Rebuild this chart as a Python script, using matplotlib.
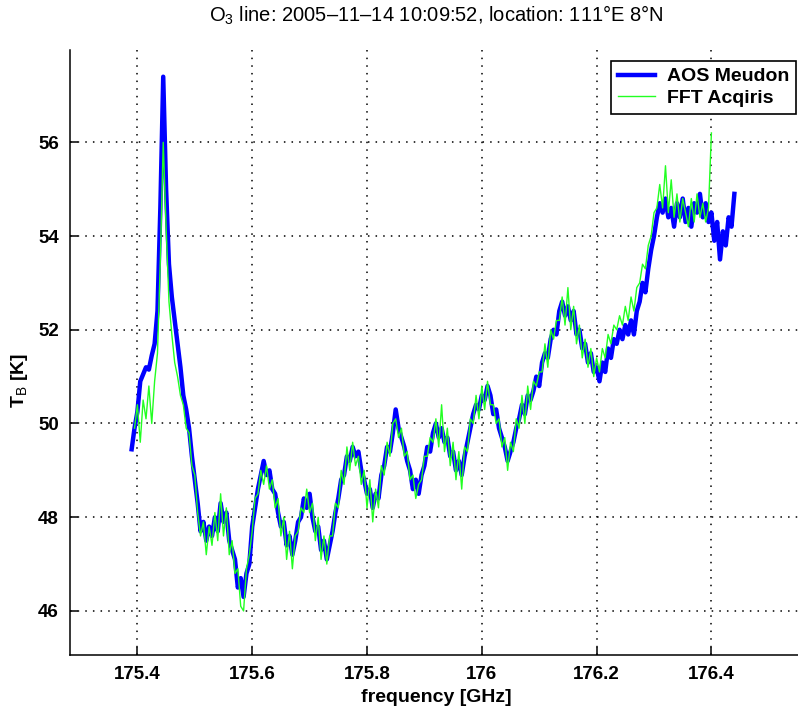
import numpy as np
import matplotlib
matplotlib.use('Agg')
import matplotlib.pyplot as plt
from matplotlib import font_manager

# channel grid of both spectrometers (GHz)
f_step = 0.005
aos_f0 = 175.39
fft_f0 = 175.395

# brightness temperature, AOS Meudon [K]
aos_tb = [
    49.45, 49.9, 50.25, 50.9, 51.05, 51.2, 51.15, 51.45, 51.7, 52.4,
    54.6, 57.4, 55.0, 53.4, 52.7, 52.2, 51.7, 51.2, 50.6, 50.3,
    49.9, 49.3, 48.8, 48.3, 47.7, 47.9, 47.5, 47.8, 47.6, 48.0,
    47.7, 48.3, 47.9, 48.1, 47.5, 47.3, 47.1, 46.5, 46.7, 46.3,
    46.8, 47.0, 47.8, 48.2, 48.6, 48.9, 49.2, 48.9, 49.0, 48.6,
    48.5, 48.1, 47.8, 47.9, 47.4, 47.6, 47.2, 47.5, 47.9, 48.0,
    48.4, 48.2, 48.5, 48.0, 47.7, 47.8, 47.3, 47.5, 47.1, 47.4,
    47.7, 48.1, 48.4, 48.8, 48.9, 49.3, 49.2, 49.5, 49.3, 49.4,
    49.0, 48.8, 48.5, 48.6, 48.2, 48.5, 48.4, 48.9, 49.1, 49.5,
    49.4, 49.8, 50.3, 49.9, 49.7, 49.5, 49.2, 49.0, 48.6, 48.8,
    48.5, 48.9, 49.1, 49.5, 49.4, 49.8, 50.0, 49.7, 49.9, 49.6,
    49.7, 49.3, 49.4, 49.0, 49.2, 48.9, 49.3, 49.6, 49.9, 50.2,
    50.4, 50.3, 50.6, 50.5, 50.8, 50.6, 50.2, 50.3, 49.9, 49.7,
    49.5, 49.2, 49.4, 49.6, 49.9, 50.1, 50.4, 50.2, 50.6, 50.5,
    50.7, 51.0, 50.8, 51.3, 51.5, 51.4, 51.8, 52.0, 51.9, 52.4,
    52.6, 52.3, 52.5, 52.2, 52.4, 51.9, 52.0, 51.6, 51.7, 51.3,
    51.5, 51.1, 51.2, 50.9, 51.3, 51.1, 51.6, 51.4, 51.8, 51.7,
    52.0, 51.8, 52.1, 51.9, 52.2, 51.9, 52.4, 52.6, 53.0, 52.8,
    53.3, 53.7, 54.0, 54.4, 54.7, 54.5, 54.8, 54.4, 54.6, 54.2,
    54.7, 54.4, 54.8, 54.3, 54.6, 54.2, 54.7, 54.5, 54.9, 54.4,
    54.7, 54.3, 54.5, 53.9, 54.3, 53.5, 54.1, 53.8, 54.4, 54.2,
    54.9,
]

# brightness temperature, FFT Acqiris [K]
fft_tb = [
    49.9, 50.4, 49.6, 50.5, 50.1, 50.8, 50.0, 50.9, 51.5, 53.5,
    56.0, 54.2, 52.6, 51.9, 51.3, 51.0, 50.6, 50.4, 49.9, 49.8,
    49.1, 48.9, 48.1, 47.6, 47.9, 47.2, 47.8, 47.4, 48.1, 47.5,
    48.5, 47.6, 48.2, 47.2, 47.5, 46.8, 46.9, 46.1, 46.0, 46.9,
    47.2, 47.7, 48.4, 48.5, 49.0, 48.7, 49.1, 48.6, 48.8, 48.2,
    48.4, 47.6, 48.0, 47.1, 47.7, 46.9, 47.6, 47.7, 48.2, 48.1,
    48.6, 48.1, 48.3, 47.5, 48.0, 47.1, 47.6, 47.0, 47.6, 47.6,
    48.3, 48.2, 49.0, 48.7, 49.5, 49.0, 49.6, 49.1, 49.3, 48.7,
    49.0, 48.2, 48.8, 47.9, 48.6, 48.2, 49.1, 48.9, 49.6, 49.3,
    50.0, 50.1, 49.7, 49.9, 49.3, 49.4, 48.8, 48.9, 48.4, 48.7,
    48.8, 49.3, 49.3, 49.7, 49.6, 50.1, 49.5, 50.4, 49.4, 49.9,
    49.1, 49.6, 48.8, 49.4, 48.6, 49.5, 49.4, 50.1, 50.0, 50.6,
    50.1, 50.8, 50.3, 50.9, 50.4, 50.4, 50.0, 50.1, 49.5, 49.7,
    49.0, 49.6, 49.4, 50.1, 49.9, 50.6, 50.0, 50.8, 50.3, 50.9,
    50.8, 51.1, 51.1, 51.7, 51.2, 52.0, 51.8, 52.2, 52.2, 52.7,
    52.1, 52.9, 52.0, 52.5, 51.7, 52.1, 51.4, 51.8, 51.2, 51.6,
    51.0, 51.4, 51.1, 51.6, 51.4, 51.9, 51.7, 52.1, 52.0, 52.3,
    52.1, 52.5, 52.2, 52.7, 52.4, 52.9, 53.0, 53.4, 53.3, 53.8,
    54.0, 54.5, 54.6, 55.1, 54.6, 55.5, 54.5, 55.2, 54.4, 54.9,
    54.3, 54.8, 54.5, 54.2, 54.8, 54.3, 54.9, 54.4, 54.7, 54.3,
    54.6, 56.2,
]

series_labels = ['AOS Meudon', 'FFT Acqiris']
x_ticks = [175.4, 175.6, 175.8, 176.0, 176.2, 176.4]
x_ticklabels = ['175.4', '175.6', '175.8', '176', '176.2', '176.4']
y_ticks = [46, 48, 50, 52, 54, 56]

aos_f = aos_f0 + f_step * np.arange(len(aos_tb))
fft_f = fft_f0 + f_step * np.arange(len(fft_tb))

# helvetica-narrow look if we have it
installed = {f.name for f in font_manager.fontManager.ttflist}
if 'Liberation Sans Narrow' in installed:
    fam, fs = 'Liberation Sans Narrow', 16
else:
    fam, fs = 'Liberation Sans', 13.5
plt.rcParams['font.family'] = [fam, 'DejaVu Sans']
plt.rcParams['mathtext.fontset'] = 'custom'
plt.rcParams['mathtext.rm'] = fam
plt.rcParams['mathtext.it'] = fam
plt.rcParams['mathtext.bf'] = fam + ':bold'

fig = plt.figure(figsize=(7.98, 7.16), dpi=100)
ax = fig.add_axes([70 / 798, 61 / 716, 736 / 798, 605 / 716])

ax.plot(aos_f, aos_tb, color='#0000ff', lw=3.2, label=series_labels[0])
ax.plot(fft_f, fft_tb, color='#22ff22', lw=1.0, label=series_labels[1])

ax.set_xlim(175.2826, 176.5648)
ax.set_ylim(45.06, 57.97)
ax.set_xticks(x_ticks)
ax.set_xticklabels(x_ticklabels)
ax.set_yticks(y_ticks)
ax.tick_params(direction='in', length=6, width=1.1, labelsize=fs, pad=8,
               top=False, right=False)
for lab in ax.get_xticklabels() + ax.get_yticklabels():
    lab.set_fontweight('bold')

ax.grid(True, color='black', lw=1.1, linestyle=(0, (1, 4)))
for side in ['top', 'right']:
    ax.spines[side].set_visible(False)
for side in ['left', 'bottom']:
    ax.spines[side].set_linewidth(1.1)

ax.set_xlabel('frequency [GHz]', fontsize=fs + 0.5, fontweight='semibold')
ax.xaxis.set_label_coords((436 - 70) / 736, -(689 - 655) / 605)
ax.set_ylabel(r'T$_\mathrm{B}$ [K]', fontsize=fs + 0.5, fontweight='bold')
ax.yaxis.set_label_coords((30 - 70) / 736, (655 - 380) / 605)
fig.text(436 / 798, 1 - 15 / 716,
         'O$_3$ line: 2005\u201311\u201314 10:09:52, location: 111\u00b0E 8\u00b0N',
         ha='center', va='center', fontsize=14.5)

leg = ax.legend(loc='upper right', bbox_to_anchor=(0.986, 0.982),
                borderaxespad=0, fancybox=False, framealpha=1,
                edgecolor='black', handlelength=1.9, handletextpad=0.6,
                borderpad=0.35, labelspacing=0.2,
                prop={'size': fs + 0.5, 'weight': 'bold'})
leg.get_frame().set_linewidth(1.2)

fig.savefig('out.png', dpi=100)
